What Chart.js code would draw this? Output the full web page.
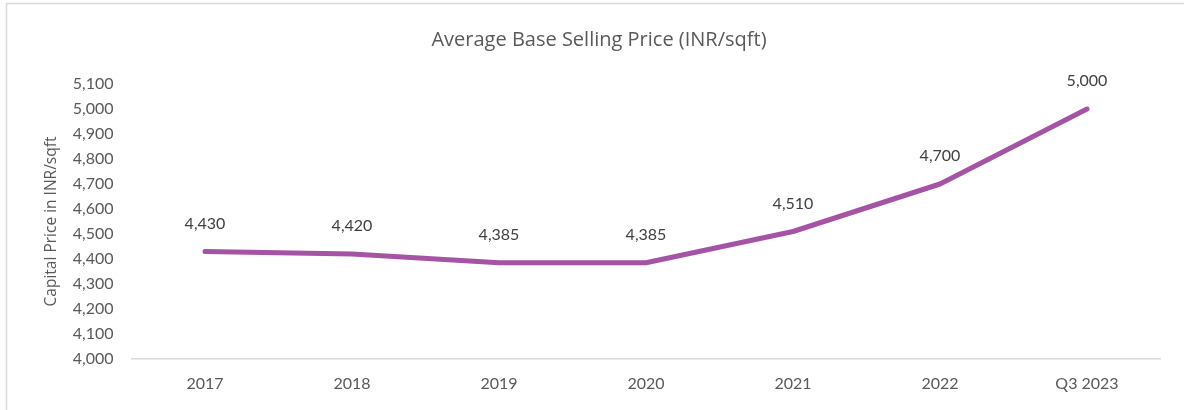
<!DOCTYPE html>
<html>
<head>
<meta charset="utf-8">
<script src="https://cdn.jsdelivr.net/npm/chart.js@4"></script>
<style>
  html, body { margin: 0; padding: 0; background: #ffffff; }
  #wrap { position: relative; width: 1184px; height: 410px; }
  canvas { display: block; }
</style>
</head>
<body>
<div id="wrap"><canvas id="chart" width="1184" height="410"></canvas></div>
<script>
// Average base selling price, INR per sq ft
const categories = ['2017', '2018', '2019', '2020', '2021', '2022', 'Q3 2023'];
const prices = [4430, 4420, 4385, 4385, 4510, 4700, 5000];
const yMin = 4000;
const yMax = 5100;
const yStep = 100;

const chartTitle = 'Average Base Selling Price (INR/sqft)';
const yAxisTitle = 'Capital Price in INR/sqft';

const textGrey = '#595959';
const lineColour = '#A553A4';

// Light frame around the chart panel
const framePlugin = {
  id: 'frame',
  beforeDraw(chart) {
    const ctx = chart.ctx;
    ctx.save();
    ctx.fillStyle = '#ffffff';
    ctx.fillRect(0, 0, chart.width, chart.height);
    ctx.strokeStyle = '#d9d9d9';
    ctx.lineWidth = 1.5;
    ctx.beginPath();
    ctx.moveTo(6.5, chart.height);
    ctx.lineTo(6.5, 3.5);
    ctx.lineTo(chart.width, 3.5);
    ctx.stroke();
    ctx.restore();
  }
};

// Value labels above each point
const valueLabels = {
  id: 'valueLabels',
  afterDatasetsDraw(chart) {
    const ctx = chart.ctx;
    const meta = chart.getDatasetMeta(0);
    const fmt = new Intl.NumberFormat('en-US');
    ctx.save();
    ctx.font = '16px Lato, "Liberation Sans", sans-serif';
    ctx.fillStyle = '#404040';
    ctx.textAlign = 'center';
    ctx.textBaseline = 'middle';
    meta.data.forEach((pt, i) => {
      ctx.fillText(fmt.format(prices[i]), pt.x, pt.y - 28);
    });
    ctx.restore();
  }
};

new Chart(document.getElementById('chart'), {
  type: 'line',
  data: {
    labels: categories,
    datasets: [{
      data: prices,
      borderColor: lineColour,
      borderWidth: 5,
      borderCapStyle: 'round',
      borderJoinStyle: 'round',
      pointRadius: 0,
      pointHoverRadius: 0,
      tension: 0,
      fill: false
    }]
  },
  options: {
    responsive: false,
    animation: false,
    events: [],
    layout: { padding: { left: 37.5, right: 23.5, top: 0, bottom: 0 } },
    plugins: {
      legend: { display: false },
      tooltip: { enabled: false },
      title: {
        display: true,
        text: chartTitle,
        color: textGrey,
        font: { family: '"Open Sans", sans-serif', size: 20, weight: 'normal', lineHeight: 1.2 },
        padding: { top: 28, bottom: 32 }
      }
    },
    scales: {
      x: {
        type: 'category',
        offset: true,
        grid: { display: false, drawTicks: false },
        border: { display: true, color: '#d9d9d9', width: 1.5 },
        ticks: {
          color: textGrey,
          font: { family: 'Lato, "Liberation Sans", sans-serif', size: 16 },
          padding: 15,
          maxRotation: 0,
          autoSkip: false
        },
        afterFit(scale) { scale.height = 51; }
      },
      y: {
        min: yMin,
        max: yMax,
        grid: { display: false, drawTicks: false },
        border: { display: false },
        ticks: {
          stepSize: yStep,
          color: textGrey,
          font: { family: 'Lato, "Liberation Sans", sans-serif', size: 16 },
          padding: 18,
          callback: (v) => new Intl.NumberFormat('en-US').format(v)
        },
        title: {
          display: true,
          text: yAxisTitle,
          color: textGrey,
          font: { family: '"Open Sans", sans-serif', size: 15.5, weight: 'normal', lineHeight: 1.2 },
          padding: { top: 5, bottom: 0 }
        },
        afterFit(scale) { scale.width = 94; }
      }
    }
  },
  plugins: [framePlugin, valueLabels]
});
</script>
</body>
</html>
